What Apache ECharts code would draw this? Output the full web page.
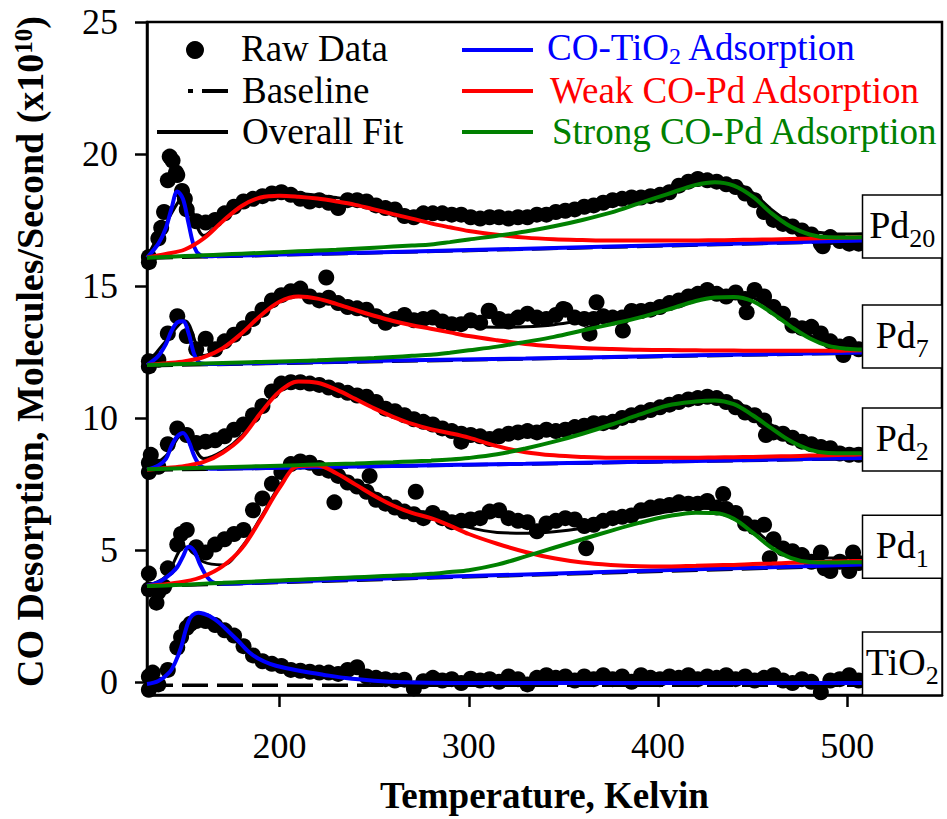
<!DOCTYPE html>
<html>
<head>
<meta charset="utf-8">
<script src="https://cdn.jsdelivr.net/npm/echarts@6/dist/echarts.min.js"></script>
<style>
  html, body { margin: 0; padding: 0; background: #fff; }
  #chart { width: 947px; height: 819px; }
</style>
</head>
<body>
<div id="chart"></div>
<script>
// ---------- tick labels ----------
const X_TICKS = [200, 300, 400, 500];
const Y_TICKS = [0, 5, 10, 15, 20, 25];

// ---------- temperature grids (K) ----------
const TEMP_RAW = [
  131, 136, 141, 146, 151, 156, 161, 166, 171, 176,
  181, 186, 191, 196, 201, 206, 211, 216, 221, 226,
  231, 236, 241, 246, 251, 256, 261, 266, 271, 276,
  281, 286, 291, 296, 301, 306, 311, 316, 321, 326,
  331, 336, 341, 346, 351, 356, 361, 366, 371, 376,
  381, 386, 391, 396, 401, 406, 411, 416, 421, 426,
  431, 436, 441, 446, 451, 456, 461, 466, 471, 476,
  481, 486, 491, 496, 501, 506
];
const TEMP_FIT = [130, 140, 150, 160, 170, 180, 190, 200,
  210, 220, 230, 240, 250, 260, 270, 280, 290, 300,
  315, 330, 345, 360, 375, 390, 405, 420,
  430, 440, 450, 460, 470, 480, 490, 500, 508];
const TEMP_PEAK = [130, 136, 140, 143, 146, 149, 152, 155, 158, 162, 166, 172, 200, 260, 330, 420, 508];
const TEMP_TIO2 = [130, 136, 142, 145, 148, 150, 152, 154, 157, 160, 163, 168, 174, 179, 184, 189, 195, 202, 212, 223, 235, 250, 265, 290, 350, 450, 508];
const TEMP_BASE = [130, 508];

// ---------- raw desorption data (x10^10 molecules/s, offset per sample) ----------
const RAW_TIO2 = [
  0.2, -0.1, 0.45, 1.3, 2.05, 2.3, 2.3, 2.15, 1.95, 1.75,
  1.35, 1.0, 0.78, 0.68, 0.6, 0.45, 0.42, 0.38, 0.35, 0.35,
  0.3, 0.45, 0.55, 0.2, 0.15, 0.1, 0.05, 0.08, -0.25, 0.02,
  0.15, 0.05, 0.1, -0.05, 0.12, 0.05, 0.1, 0.0, 0.2, 0.1,
  -0.1, 0.15, 0.25, 0.15, 0.2, 0.05, 0.2, 0.1, 0.25, 0.1,
  0.2, 0.0, 0.25, 0.15, 0.1, 0.2, 0.15, 0.25, 0.1, 0.2,
  0.15, 0.25, 0.1, 0.2, 0.05, 0.15, 0.25, 0.05, -0.05, 0.1,
  0.0, -0.4, 0.05, 0.1, 0.25, 0.05
];
const EXTRA_TIO2 = [[131, -0.3], [133, 0.35], [148, 1.7], [153, 2.2]];

const RAW_PD1 = [
  4.1, 3.4, 4.3, 5.2, 5.75, 5.1, 4.9, 5.2, 5.4, 5.6,
  5.75, 6.5, 6.95, 7.5, 7.95, 8.25, 8.35, 8.3, 8.1, 8.0,
  7.8, 7.55, 7.4, 7.2, 6.9, 6.75, 6.6, 6.45, 6.35, 6.2,
  6.4, 6.2, 6.05, 6.1, 6.15, 6.2, 6.45, 6.5, 6.2, 6.1,
  6.05, 5.7, 6.0, 6.1, 6.2, 6.15, 5.9, 5.95, 6.1, 6.2,
  6.25, 6.3, 6.5, 6.6, 6.65, 6.7, 6.8, 6.75, 6.75, 6.85,
  6.6, 6.55, 6.4, 6.0, 5.85, 5.95, 5.4, 5.05, 4.95, 4.8,
  4.55, 4.9, 4.2, 4.55, 4.2, 4.5
];
const EXTRA_PD1 = [[131, 3.5], [135, 3.0], [139, 3.6], [148, 5.6], [229, 6.8], [247.6, 7.8],
  [272, 7.2], [362, 5.06], [434.4, 7.12], [459, 4.68], [488, 4.3], [503, 4.9]];

const RAW_PD2 = [
  8.3, 8.15, 9.0, 9.6, 9.35, 9.05, 9.1, 9.15, 9.3, 9.55,
  9.75, 10.1, 10.45, 11.0, 11.3, 11.35, 11.35, 11.3, 11.25, 11.15,
  11.05, 10.95, 10.85, 10.8, 10.6, 10.35, 10.25, 10.1, 9.95, 9.85,
  9.75, 9.6, 9.5, 9.4, 9.35, 9.3, 9.2, 9.3, 9.4, 9.45,
  9.5, 9.45, 9.55, 9.5, 9.55, 9.65, 9.7, 9.8, 9.8, 9.85,
  10.0, 10.1, 10.2, 10.3, 10.4, 10.5, 10.6, 10.7, 10.75, 10.8,
  10.75, 10.6, 10.4, 10.2, 10.1, 9.9, 9.45, 9.4, 9.25, 9.1,
  9.0, 8.9, 8.85, 8.65, 8.6, 8.6
];
const EXTRA_PD2 = [[131, 7.95], [132, 8.6], [457, 9.35], [296, 9.1]];

const RAW_PD7 = [
  11.95, 12.2, 13.2, 13.85, 13.1, 12.6, 13.0, 12.6, 12.9, 13.15,
  13.4, 13.75, 14.1, 14.45, 14.65, 14.8, 14.9, 14.6, 14.45, 14.55,
  14.35, 14.2, 14.15, 14.1, 13.85, 13.6, 13.75, 13.9, 13.7, 13.75,
  13.8, 13.65, 13.55, 13.55, 13.7, 13.6, 14.05, 13.75, 13.65, 13.8,
  13.95, 13.8, 13.75, 13.9, 14.1, 13.8, 13.75, 13.75, 13.85, 13.8,
  13.8, 14.05, 14.05, 14.1, 14.2, 14.35, 14.45, 14.6, 14.7, 14.85,
  14.7, 14.6, 14.75, 14.5, 14.85, 14.6, 14.2, 13.95, 13.5, 13.4,
  13.45, 13.2, 12.9, 12.7, 12.8, 12.6
];
const EXTRA_PD7 = [[224.7, 15.32], [367.5, 14.38], [310.5, 14.06], [363.8, 13.19], [381.4, 13.31],
  [446.8, 14.0], [497.9, 12.38], [131, 12.15], [349.8, 14.13]];

const RAW_PD20 = [
  16.1, 16.8, 19.0, 19.2, 17.9, 17.45, 17.4, 17.5, 17.75, 18.0,
  18.2, 18.3, 18.4, 18.5, 18.55, 18.45, 18.3, 18.2, 18.25, 18.15,
  17.95, 18.25, 18.25, 18.2, 18.05, 17.95, 17.9, 17.65, 17.6, 17.75,
  17.75, 17.75, 17.7, 17.7, 17.6, 17.55, 17.6, 17.6, 17.55, 17.6,
  17.6, 17.7, 17.7, 17.8, 17.85, 17.9, 18.0, 18.05, 18.15, 18.25,
  18.3, 18.35, 18.35, 18.4, 18.45, 18.55, 18.8, 18.95, 19.05, 19.0,
  18.95, 18.85, 18.75, 18.5, 18.25, 17.8, 17.5, 17.35, 17.25, 17.1,
  16.95, 16.6, 16.85, 16.7, 16.6, 16.6
];
const EXTRA_PD20 = [[142, 19.9], [143.5, 19.75], [139, 17.8], [137.5, 17.2], [145.3, 19.3],
  [148.5, 18.6], [150, 18.3], [131, 15.9], [487, 16.5]];

// ---------- baselines (start, end) ----------
const BASE_TIO2 = [-0.13, -0.13];
const BASE_PD1 = [3.62, 4.41];
const BASE_PD2 = [8.02, 8.46];
const BASE_PD7 = [11.98, 12.46];
const BASE_PD20 = [16.05, 16.7];

// ---------- CO-TiO2 adsorption component ----------
const BLUE_TIO2 = [-0.08, 0.03, 0.37, 0.75, 1.3, 1.85, 2.3, 2.52, 2.62, 2.58, 2.49, 2.25, 1.84, 1.49,
  1.12, 0.87, 0.68, 0.54, 0.4, 0.27, 0.14, 0.04, -0.02, -0.05, -0.05, -0.05, -0.05];
const BLUE_PD1 = [3.64, 3.77, 3.95, 4.12, 4.35, 4.75, 5.12, 4.95, 4.45, 3.95, 3.74, 3.72, 3.79, 3.92, 4.07, 4.26, 4.44];
const BLUE_PD2 = [8.04, 8.2, 8.45, 8.95, 9.3, 9.43, 9.12, 8.55, 8.2, 8.08, 8.07, 8.08, 8.11, 8.18, 8.26, 8.37, 8.48];
const BLUE_PD7 = [12.0, 12.35, 12.8, 13.3, 13.62, 13.66, 13.2, 12.4, 12.08, 12.04, 12.04, 12.05, 12.09, 12.17, 12.25, 12.37, 12.48];
const BLUE_PD20 = [16.07, 16.6, 17.2, 17.95, 18.58, 18.3, 17.35, 16.47, 16.17, 16.12, 16.13, 16.14, 16.19, 16.29, 16.41, 16.57, 16.72];

// ---------- weak CO-Pd adsorption component ----------
const RED_PD1 = [3.63, 3.7, 3.8, 4.0, 4.38, 5.05, 6.15, 7.35,
  8.18, 8.2, 7.9, 7.48, 7.05, 6.68, 6.4, 6.2, 5.92, 5.6,
  5.23, 4.92, 4.68, 4.52, 4.43, 4.38, 4.37, 4.4,
  4.42, 4.43, 4.46, 4.48, 4.51, 4.53, 4.55, 4.57, 4.58];
const RED_PD2 = [8.03, 8.1, 8.18, 8.33, 8.68, 9.25, 10.18, 11.0,
  11.38, 11.33, 11.07, 10.72, 10.36, 10.04, 9.77, 9.57, 9.42, 9.25,
  8.93, 8.7, 8.58, 8.52, 8.49, 8.49, 8.49, 8.49,
  8.5, 8.51, 8.52, 8.54, 8.55, 8.57, 8.58, 8.6, 8.62];
const RED_PD7 = [12.0, 12.07, 12.15, 12.3, 12.64, 13.2, 13.87, 14.4,
  14.6, 14.52, 14.32, 14.09, 13.87, 13.67, 13.51, 13.38, 13.24, 13.1,
  12.94, 12.8, 12.71, 12.65, 12.61, 12.58, 12.57, 12.56,
  12.55, 12.55, 12.54, 12.54, 12.54, 12.54, 12.54, 12.55, 12.56];
const RED_PD20 = [16.08, 16.21, 16.38, 16.8, 17.45, 18.03, 18.35, 18.42,
  18.38, 18.31, 18.2, 18.07, 17.9, 17.72, 17.55, 17.37, 17.22, 17.08,
  16.94, 16.83, 16.77, 16.74, 16.72, 16.72, 16.72, 16.72,
  16.73, 16.74, 16.75, 16.76, 16.78, 16.8, 16.82, 16.83, 16.84];

// ---------- strong CO-Pd adsorption component ----------
const GREEN_PD1 = [3.63, 3.65, 3.68, 3.72, 3.75, 3.78, 3.81, 3.84,
  3.87, 3.9, 3.93, 3.96, 3.99, 4.02, 4.05, 4.09, 4.16, 4.23,
  4.44, 4.75, 5.08, 5.4, 5.72, 6.02, 6.27, 6.41,
  6.4, 6.18, 5.65, 5.08, 4.7, 4.54, 4.52, 4.53, 4.53];
const GREEN_PD2 = [8.05, 8.07, 8.09, 8.11, 8.13, 8.15, 8.17, 8.19,
  8.21, 8.23, 8.25, 8.27, 8.3, 8.32, 8.35, 8.38, 8.42, 8.48,
  8.62, 8.84, 9.1, 9.4, 9.74, 10.12, 10.47, 10.62,
  10.66, 10.52, 10.1, 9.6, 9.12, 8.8, 8.67, 8.66, 8.66];
const GREEN_PD7 = [12.0, 12.02, 12.04, 12.06, 12.08, 12.1, 12.12, 12.14,
  12.16, 12.18, 12.21, 12.24, 12.27, 12.31, 12.35, 12.39, 12.47, 12.56,
  12.7, 12.88, 13.07, 13.31, 13.55, 13.8, 14.1, 14.43,
  14.56, 14.58, 14.42, 13.98, 13.47, 13.02, 12.73, 12.62, 12.59];
const GREEN_PD20 = [16.07, 16.1, 16.13, 16.16, 16.19, 16.22, 16.25, 16.28,
  16.31, 16.34, 16.37, 16.41, 16.45, 16.49, 16.53, 16.57, 16.66, 16.76,
  16.9, 17.06, 17.26, 17.5, 17.78, 18.13, 18.48, 18.83,
  18.93, 18.8, 18.38, 17.75, 17.25, 16.95, 16.84, 16.83, 16.84];

// ---------- overall fit ----------
const FIT_PD1 = [3.64, 4.0, 5.12, 4.54, 4.43, 5.1, 6.21, 7.42,
  8.26, 8.29, 8.0, 7.59, 7.17, 6.81, 6.54, 6.35, 6.12, 5.85,
  5.66, 5.63, 5.69, 5.82, 6.02, 6.23, 6.44, 6.58,
  6.57, 6.34, 5.82, 5.25, 4.88, 4.71, 4.69, 4.7, 4.7];
const FIT_PD2 = [8.06, 8.56, 9.48, 8.46, 8.74, 9.32, 10.26, 11.09,
  11.48, 11.43, 11.18, 10.84, 10.5, 10.19, 9.94, 9.75, 9.63, 9.51,
  9.31, 9.29, 9.41, 9.63, 9.92, 10.29, 10.62, 10.75,
  10.79, 10.65, 10.23, 9.73, 9.25, 8.94, 8.81, 8.81, 8.82];
const FIT_PD7 = [12.02, 12.91, 13.68, 12.36, 12.69, 13.26, 13.93, 14.47,
  14.68, 14.61, 14.42, 14.21, 14.01, 13.83, 13.7, 13.6, 13.53, 13.46,
  13.43, 13.45, 13.53, 13.69, 13.87, 14.07, 14.34, 14.64,
  14.75, 14.76, 14.57, 14.12, 13.6, 13.14, 12.83, 12.72, 12.69];
const FIT_PD20 = [16.1, 17.37, 18.4, 16.91, 17.52, 18.11, 18.45, 18.53,
  18.5, 18.44, 18.35, 18.24, 18.09, 17.94, 17.79, 17.63, 17.55, 17.5,
  17.47, 17.5, 17.61, 17.79, 18.03, 18.35, 18.68, 19.0,
  19.09, 18.96, 18.53, 17.89, 17.39, 17.1, 16.99, 16.97, 16.98];

// ---------- sample labels: text and the value the box is centred on ----------
const SAMPLE_NAMES = ['TiO{sub|2}', 'Pd{sub|1}', 'Pd{sub|2}', 'Pd{sub|7}', 'Pd{sub|20}'];
const SAMPLE_LABEL_Y = [0.69, 5.12, 9.18, 13.08, 17.25];
const SAMPLE_LABEL_T = 508;

// ---------- styling ----------
const FONT = '"Liberation Serif", "Times New Roman", Times, serif';
const BLUE = '#0000ff', RED = '#ff0000', GREEN = '#008000', BLACK = '#000000';

const pairs = (ts, vs) => ts.map((t, i) => [t, vs[i]]);

const samples = [
  { raw: RAW_TIO2, extra: EXTRA_TIO2, base: BASE_TIO2, blueT: TEMP_TIO2, blue: BLUE_TIO2 },
  { raw: RAW_PD1, extra: EXTRA_PD1, base: BASE_PD1, blueT: TEMP_PEAK, blue: BLUE_PD1, red: RED_PD1, green: GREEN_PD1, fit: FIT_PD1 },
  { raw: RAW_PD2, extra: EXTRA_PD2, base: BASE_PD2, blueT: TEMP_PEAK, blue: BLUE_PD2, red: RED_PD2, green: GREEN_PD2, fit: FIT_PD2 },
  { raw: RAW_PD7, extra: EXTRA_PD7, base: BASE_PD7, blueT: TEMP_PEAK, blue: BLUE_PD7, red: RED_PD7, green: GREEN_PD7, fit: FIT_PD7 },
  { raw: RAW_PD20, extra: EXTRA_PD20, base: BASE_PD20, blueT: TEMP_PEAK, blue: BLUE_PD20, red: RED_PD20, green: GREEN_PD20, fit: FIT_PD20 }
];

function lineSeries(name, data, color, width, z, extra) {
  return Object.assign({
    type: 'line', name: name, data: data, showSymbol: false, symbol: 'none',
    smooth: 0.35, silent: true, z: z,
    lineStyle: { color: color, width: width }
  }, extra || {});
}

const series = [];
samples.forEach(s => {
  if (s.fit) series.push(lineSeries('Overall Fit', pairs(TEMP_FIT, s.fit), BLACK, 3, 1));
  series.push({
    type: 'scatter', name: 'Raw Data', silent: true, z: 2,
    data: pairs(TEMP_RAW, s.raw).concat(s.extra),
    symbol: 'circle', symbolSize: 16, itemStyle: { color: BLACK, opacity: 1 }
  });
  series.push(lineSeries('Baseline', pairs(TEMP_BASE, s.base), BLACK, 3.5, 3,
    { smooth: false, lineStyle: { color: BLACK, width: 3.5, type: [26, 9] } }));
  series.push(lineSeries('CO-TiO2 Adsorption', pairs(s.blueT, s.blue), BLUE, 4, 4));
  if (s.red) series.push(lineSeries('Weak CO-Pd Adsorption', pairs(TEMP_FIT, s.red), RED, 4, 5));
  if (s.green) series.push(lineSeries('Strong CO-Pd Adsorption', pairs(TEMP_FIT, s.green), GREEN, 4, 6));
});

const axisLineStyle = { color: BLACK, width: 2.5 };

const option = {
  animation: false,
  backgroundColor: '#ffffff',
  grid: { left: 147, right: 5, top: 22, bottom: 118, show: true, borderColor: BLACK, borderWidth: 2.5, backgroundColor: 'transparent' },
  xAxis: {
    type: 'value', min: 130, max: 550,
    axisLine: { show: true, onZero: false, lineStyle: axisLineStyle },
    axisTick: { show: true, inside: false, length: 12, lineStyle: axisLineStyle, customValues: X_TICKS },
    axisLabel: { customValues: X_TICKS, fontFamily: FONT, fontSize: 36, color: BLACK, margin: 33 },
    splitLine: { show: false },
    name: 'Temperature, Kelvin', nameLocation: 'middle', nameGap: 82,
    nameTextStyle: { fontFamily: FONT, fontSize: 37, fontWeight: 'bold', color: BLACK }
  },
  yAxis: {
    type: 'value', min: -0.5, max: 25,
    axisLine: { show: true, onZero: false, lineStyle: axisLineStyle },
    axisTick: { show: true, inside: false, length: 12, lineStyle: axisLineStyle, customValues: Y_TICKS },
    axisLabel: { customValues: Y_TICKS, fontFamily: FONT, fontSize: 36, color: BLACK, margin: 29 },
    splitLine: { show: false },
    name: 'CO Desorption, Molecules/Second (x10{sup|10})', nameLocation: 'middle', nameGap: 98, nameRotate: 90,
    nameTextStyle: {
      fontFamily: FONT, fontSize: 38, fontWeight: 'bold', color: BLACK, padding: [0, 0, 0, 14],
      rich: { sup: { fontFamily: FONT, fontSize: 25, fontWeight: 'bold', color: BLACK, verticalAlign: 'top', lineHeight: 25 } }
    }
  },
  series: series
};

const chart = echarts.init(document.getElementById('chart'), null, { renderer: 'svg' });
chart.setOption(option);

// ---------- legend (two columns) ----------
function txt(x, y, text, color, rich) {
  return {
    type: 'text', x: x, y: y, z: 100,
    style: {
      text: text, fill: color, font: '37px ' + FONT,
      textAlign: 'left', align: 'left', textVerticalAlign: 'middle', verticalAlign: 'middle',
      rich: rich || undefined
    }
  };
}
function seg(x1, y1, x2, y2, color, w) {
  return { type: 'line', z: 100, shape: { x1: x1, y1: y1, x2: x2, y2: y2 }, style: { stroke: color, lineWidth: w } };
}
const subRich = (color, size, drop) => ({ sub: { fill: color, fontFamily: FONT, fontSize: size, verticalAlign: 'bottom', lineHeight: size, padding: [0, 0, -drop, 0] } });

const graphics = [
  { type: 'circle', z: 100, shape: { cx: 195, cy: 50, r: 9 }, style: { fill: BLACK } },
  txt(241, 48, 'Raw Data', BLACK),
  seg(188, 91, 193, 91, BLACK, 4), seg(202, 91, 228, 91, BLACK, 4),
  txt(242, 90, 'Baseline', BLACK),
  seg(157, 132, 228, 132, BLACK, 4),
  txt(242, 131, 'Overall Fit', BLACK),
  seg(462, 50, 533, 50, BLUE, 4),
  txt(547, 47, 'CO-TiO{sub|2} Adsorption', BLUE, subRich(BLUE, 24, 2)),
  seg(462, 91, 533, 91, RED, 4),
  txt(550, 90, 'Weak CO-Pd Adsorption', RED),
  seg(462, 132, 533, 132, GREEN, 4),
  txt(552, 131, 'Strong CO-Pd Adsorption', GREEN)
];

// ---------- sample name boxes at the right end of each trace ----------
const boxLeft = chart.convertToPixel({ xAxisIndex: 0 }, SAMPLE_LABEL_T);
const boxRight = chart.convertToPixel({ xAxisIndex: 0 }, 550);
const boxH = 63;
SAMPLE_NAMES.forEach((name, i) => {
  const cy = chart.convertToPixel({ yAxisIndex: 0 }, SAMPLE_LABEL_Y[i]);
  graphics.push({
    type: 'rect', z: 110,
    shape: { x: boxLeft, y: cy - boxH / 2, width: boxRight - boxLeft, height: boxH },
    style: { fill: '#ffffff', stroke: BLACK, lineWidth: 1.5 }
  });
  graphics.push({
    type: 'text', z: 111, x: (boxLeft + boxRight) / 2, y: cy - 2,
    style: {
      text: name, fill: BLACK, font: '38px ' + FONT,
      textAlign: 'center', align: 'center', textVerticalAlign: 'middle', verticalAlign: 'middle',
      rich: subRich(BLACK, 26, 8)
    }
  });
});

chart.setOption({ graphic: graphics });
</script>
</body>
</html>
